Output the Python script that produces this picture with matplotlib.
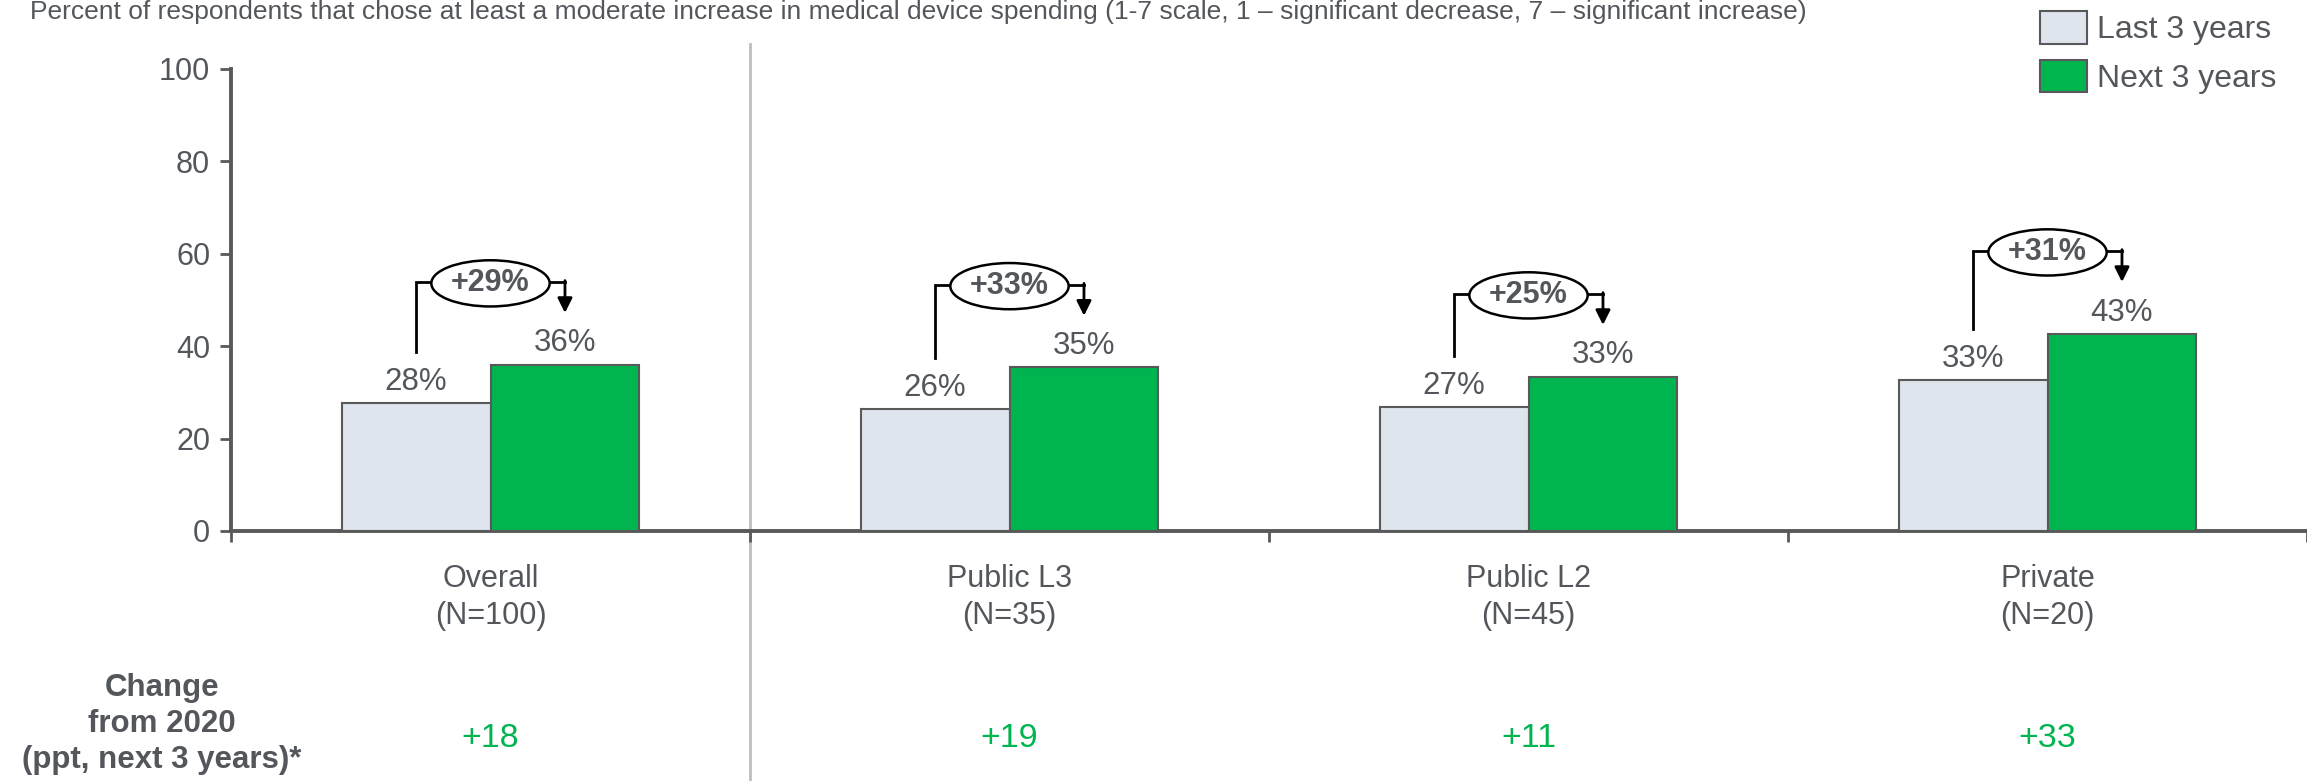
import numpy as np
import matplotlib.pyplot as plt
from matplotlib.patches import Ellipse, Patch
from matplotlib.transforms import blended_transform_factory

plt.rcParams['font.family'] = ['Liberation Sans', 'DejaVu Sans']

# data
categories = ['Overall\n(N=100)', 'Public L3\n(N=35)', 'Public L2\n(N=45)', 'Private\n(N=20)']
last_3 = [27.7, 26.4, 26.8, 32.6]
next_3 = [36.0, 35.4, 33.4, 42.7]
rel_increase = [29, 33, 25, 31]
change_2020 = [18, 19, 11, 33]
yticks = [0, 20, 40, 60, 80, 100]

txt = '#53575C'
green = '#00B550'
light = '#DEE5EC'
edge = '#595959'

fig = plt.figure(figsize=(23.07, 7.81), dpi=100)
ax = fig.add_axes([231 / 2307, 1 - 531 / 781, (2307 - 231) / 2307, (531 - 69) / 781])

x = np.arange(len(categories))
w = 0.287
ax.bar(x - w / 2, last_3, w, color=light, edgecolor=edge, linewidth=1.5, zorder=3)
ax.bar(x + w / 2, next_3, w, color=green, edgecolor=edge, linewidth=1.5, zorder=3)

for i in range(len(x)):
    ax.annotate(f'{last_3[i]:.0f}%', (x[i] - w / 2, last_3[i]), xytext=(0, 9.5),
                textcoords='offset points', ha='center', va='baseline', fontsize=22.5, color=txt)
    ax.annotate(f'{next_3[i]:.0f}%', (x[i] + w / 2, next_3[i]), xytext=(0, 9.5),
                textcoords='offset points', ha='center', va='baseline', fontsize=22.5, color=txt)

    # bracket with ellipse
    ytop = next_3[i] + 17.9
    yl = last_3[i] + 11.1
    tip = next_3[i] + 11.2
    ew, eh = 0.228, 10
    xl, xr = x[i] - w / 2, x[i] + w / 2
    ax.plot([xl, xl, x[i] - ew / 2], [yl, ytop, ytop], color='black', lw=2, zorder=4,
            solid_joinstyle='miter')
    ax.plot([x[i] + ew / 2, xr], [ytop, ytop], color='black', lw=2, zorder=4)
    ax.annotate('', xy=(xr, tip), xytext=(xr, ytop + 0.3),
                arrowprops=dict(arrowstyle='-|>', color='black', lw=2, mutation_scale=22,
                                shrinkA=0, shrinkB=0), zorder=4)
    ax.add_patch(Ellipse((x[i], ytop - 0.3), ew, eh, facecolor='white', edgecolor='black',
                         lw=1.8, zorder=5))
    ax.text(x[i], ytop - 0.3, f'+{rel_increase[i]}%', ha='center', va='center',
            fontsize=22, fontweight='bold', color=txt, zorder=6)

ax.set_xlim(-0.5, 3.5)
ax.set_ylim(0, 100)
ax.set_yticks(yticks)
ax.set_xticks(np.arange(-0.5, 4.0, 1.0))
ax.set_xticklabels([])
ax.set_xticks(x, categories, minor=True)
ax.tick_params(axis='y', length=8, width=2, color=edge, labelsize=22, labelcolor=txt, pad=7)
ax.tick_params(axis='x', which='major', length=8, width=2, color=edge)
ax.tick_params(axis='x', which='minor', length=0, pad=24, labelsize=22, labelcolor=txt)
for lbl in ax.get_xticklabels(minor=True):
    lbl.set_linespacing(1.3)

for s in ['top', 'right']:
    ax.spines[s].set_visible(False)
for s in ['left', 'bottom']:
    ax.spines[s].set_linewidth(2.8)
    ax.spines[s].set_color(edge)

# separator line
ax.axvline(0.5, ymin=-(781 - 531) / 462, ymax=(531 - 44) / 462, color='#BFBFBF', lw=2,
           clip_on=False, zorder=1)

# change from 2020 row
tr = blended_transform_factory(ax.transData, fig.transFigure)
for i in range(len(x)):
    ax.text(x[i], 1 - 747 / 781, f'+{change_2020[i]}', transform=tr, ha='center',
            va='baseline', fontsize=24.5, color=green)
fig.text(162 / 2307, 1 - 724 / 781, 'Change\nfrom 2020\n(ppt, next 3 years)*', ha='center',
         va='center', fontsize=22.5, fontweight='bold', color=txt, linespacing=1.26)

fig.text(30 / 2307, 1 - 18.7 / 781,
         'Percent of respondents that chose at least a moderate increase in medical device '
         'spending (1-7 scale, 1 \u2013 significant decrease, 7 \u2013 significant increase)',
         ha='left', va='baseline', fontsize=19, color=txt)

handles = [Patch(facecolor=light, edgecolor=edge, lw=1.5, label='Last 3 years'),
           Patch(facecolor=green, edgecolor=edge, lw=1.5, label='Next 3 years')]
fig.legend(handles=handles, loc='upper left', bbox_to_anchor=(2040 / 2307, 1 - 11 / 781),
           frameon=False, fontsize=23, handlelength=1.47, handleheight=1.2,
           handletextpad=0.3, labelspacing=0.45, borderpad=0, borderaxespad=0,
           labelcolor=txt)

fig.savefig('out.png', dpi=100)
